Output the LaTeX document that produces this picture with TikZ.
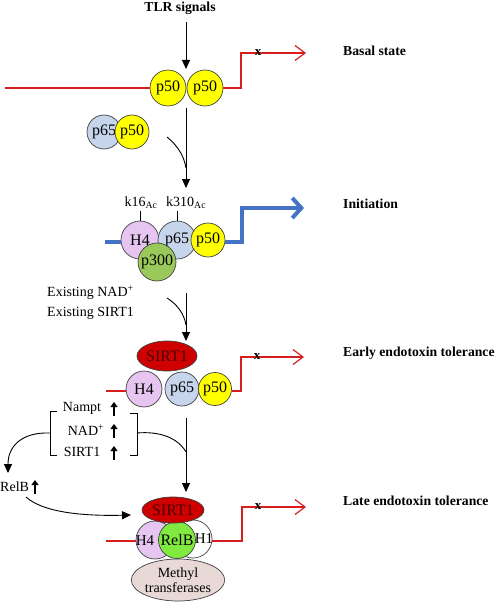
\documentclass[tikz,border=0pt]{standalone}
\usepackage{fontspec}
\setmainfont{Liberation Serif}
\usetikzlibrary{arrows.meta,shapes.geometric}
\definecolor{ylw}{RGB}{255,255,0}
\definecolor{lblue}{RGB}{198,212,236}
\definecolor{pinkc}{RGB}{230,198,240}
\definecolor{p300c}{RGB}{155,200,90}
\definecolor{relbc}{RGB}{128,234,64}
\definecolor{sirtc}{RGB}{206,0,0}
\definecolor{methc}{RGB}{232,216,214}
\definecolor{redc}{RGB}{215,30,30}
\definecolor{bluec}{RGB}{68,114,196}
\begin{document}
\begin{tikzpicture}[x=1pt,y=-1pt,
  mol/.style={circle,draw=black!75,line width=0.7pt,inner sep=0pt,minimum size=#1,font=\fontsize{16}{16}\selectfont},
  oval/.style={ellipse,draw=black!75,line width=0.7pt,inner sep=0pt,font=\fontsize{16}{16}\selectfont},
  txt/.style={inner sep=0pt,font=\fontsize{14}{16}\selectfont},
  state/.style={inner sep=0pt,anchor=west,font=\fontsize{13.7}{16}\selectfont\bfseries},
  xmark/.style={inner sep=0pt,font=\fontsize{13}{14}\selectfont\bfseries},
  blk/.style={draw=black,line width=0.9pt,-{Triangle[length=9pt,width=8pt]}},
  curv/.style={draw=black,line width=0.9pt},
  redl/.style={draw=redc,line width=1.2pt},
  redarr/.style={redl,-{Straight Barb[length=10pt,width=15pt]}},
  bluel/.style={draw=bluec,line width=4pt},
  bluearr/.style={bluel,-{Straight Barb[length=9pt,width=20pt]}},
  upar/.style={draw=black,line width=1.3pt,-{Triangle[length=5pt,width=7pt]}},
  brk/.style={draw=black,line width=0.9pt}
]
\useasboundingbox (0,0) rectangle (500,602);

% ---------- Basal state ----------
\node[state,anchor=center] (tlr) at (180,8) {TLR signals};
\coordinate (tlrA) at (186,22);
\coordinate (tlrB) at (186,69);
\draw[blk] (tlrA) -- (tlrB);
\node[mol=36pt,fill=ylw] (b50a) at (168,88) {p50};
\node[mol=36pt,fill=ylw] (b50b) at (205,88) {p50};
\coordinate (bL) at (5,88);
\coordinate (bK) at (241,53);
\coordinate (bE) at (306,53);
\draw[redl] (bL) -- (b50a.west);
\draw[redarr] (b50b.east) -| (bK) -- (bE);
\node[xmark] (bx) at (258,53) {x};
\node[state] (bs) at (343,51) {Basal state};

% ---------- free p65/p50 ----------
\node[mol=34pt,fill=lblue] (q65) at (104,132) {p65};
\node[mol=34pt,fill=ylw] (q50) at (132,132) {p50};
\coordinate (a2s) at (186,108);
\coordinate (a2e) at (186,188);
\coordinate (c2s) at (167,137);
\coordinate (c2e) at (186,168);
\draw[blk] (a2s) -- (a2e);
\draw[curv] (c2s) .. controls (178,146) and (184,156) .. (c2e);

% ---------- Initiation ----------
\node[mol=38pt,fill=pinkc] (iH4) at (140,240) {H4};
\node[mol=38pt,fill=lblue] (i65) at (177,240) {p65};
\node[mol=34pt,fill=ylw] (i50) at (208,240) {p50};
\node[mol=38pt,fill=p300c] (i300) at (157,262) {p300};
\node[txt] (kA) at (141,203) {k16\textsubscript{Ac}};
\node[txt,anchor=west] (kB) at (166,203) {k310\textsubscript{Ac}};
\draw[curv] (iH4.north) -- ++(0,-10);
\draw[curv] (i65.north) -- ++(0,-10);
\coordinate (iL) at (105,242);
\coordinate (iK) at (242,208);
\coordinate (iE) at (304,208);
\draw[bluel] (iL) -- (iH4.west |- iL);
\draw[bluearr] (i50.east |- iL) -| (iK) -- (iE);
\node[state] (is) at (343,204) {Initiation};

% ---------- Early endotoxin tolerance ----------
\node[txt,anchor=west] (exN) at (47,293) {Existing NAD\textsuperscript{+}};
\node[txt,anchor=west] (exS) at (47,313) {Existing SIRT1};
\coordinate (a3s) at (186,293);
\coordinate (a3e) at (186,341);
\coordinate (c3s) at (167,298);
\coordinate (c3e) at (186,325);
\draw[blk] (a3s) -- (a3e);
\draw[curv] (c3s) .. controls (178,305) and (184,314) .. (c3e);
\node[mol=36pt,fill=pinkc] (eH4) at (144,389) {H4};
\node[mol=34pt,fill=lblue] (e65) at (182,389) {p65};
\node[mol=33pt,fill=ylw] (e50) at (215,389) {p50};
\node[oval,fill=sirtc,minimum width=60pt,minimum height=30pt,text=black!70!red] (eS) at (167,356) {SIRT1};
\coordinate (eL) at (106,391);
\coordinate (eK) at (241,357);
\coordinate (eE) at (304,357);
\draw[redl] (eL) -- (eH4.west |- eL);
\draw[redarr] (e50.east |- eL) -| (eK) -- (eE);
\node[xmark] (ex) at (257,357) {x};
\node[state] (es) at (343,353) {Early endotoxin tolerance};

% ---------- Late endotoxin tolerance ----------
\coordinate (a4s) at (186,418);
\coordinate (a4e) at (186,492);
\draw[blk] (a4s) -- (a4e);
\node[txt] (nNam) at (82,408) {Nampt};
\node[txt] (nNad) at (86,430) {NAD\textsuperscript{+}};
\node[txt] (nSir) at (82,452) {SIRT1};
\coordinate (u1s) at (114,416); \coordinate (u1e) at (114,402);
\coordinate (u2s) at (114,438); \coordinate (u2e) at (114,424);
\coordinate (u3s) at (114,460); \coordinate (u3e) at (114,446);
\draw[upar] (u1s) -- (u1e);
\draw[upar] (u2s) -- (u2e);
\draw[upar] (u3s) -- (u3e);
% brackets
\coordinate (lbT) at (57,411);
\coordinate (lbB) at (57,455);
\coordinate (lbM) at (50,433);
\draw[brk] (lbT) -- (50,411) -- (50,455) -- (lbB);
\coordinate (rbT) at (130,413);
\coordinate (rbB) at (130,455);
\coordinate (rbM) at (137,433);
\draw[brk] (rbT) -- (137,413) -- (137,455) -- (rbB);
\coordinate (rj) at (186,452);
\draw[curv] (rbM) .. controls (160,431) and (178,438) .. (rj);
\coordinate (relbTip) at (8,473);
\draw[blk] (lbM) .. controls (22,432) and (8,446) .. (relbTip);
\node[txt,anchor=west] (relb) at (0,487) {RelB};
\coordinate (u4s) at (35,494); \coordinate (u4e) at (35,480);
\draw[upar] (u4s) -- (u4e);
\coordinate (c5s) at (26,497);
\coordinate (c5e) at (131,515);
\draw[blk] (c5s) .. controls (45,514) and (90,516) .. (c5e);

\node[mol=38pt,fill=pinkc] (lH4) at (155,540) {};
\node[mol=38pt,fill=white] (lH1) at (193,539) {};
\node[mol=37pt,fill=relbc] (lRelB) at (177,540) {RelB};
\node[txt,font=\fontsize{15}{16}\selectfont] (lH4t) at (145,541) {H4};
\node[txt,font=\fontsize{15}{16}\selectfont] (lH1t) at (204,539) {H1};
\node[oval,fill=sirtc,minimum width=62pt,minimum height=26pt,text=black!70!red] (lS) at (173,510) {SIRT1};
\node[oval,fill=methc,minimum width=86pt,minimum height=42pt,align=center,font=\fontsize{14}{15}\selectfont] (lM) at (178,580) {Methyl\\transferases};
\coordinate (lL) at (106,541);
\coordinate (lK) at (242,507);
\coordinate (lE) at (306,507);
\draw[redl] (lL) -- (lH4.west |- lL);
\draw[redarr] (lH1.east |- lL) -| (lK) -- (lE);
\node[xmark] (lx) at (258,507) {x};
\node[state] (ls) at (343,501) {Late endotoxin tolerance};
\end{tikzpicture}
\end{document}
